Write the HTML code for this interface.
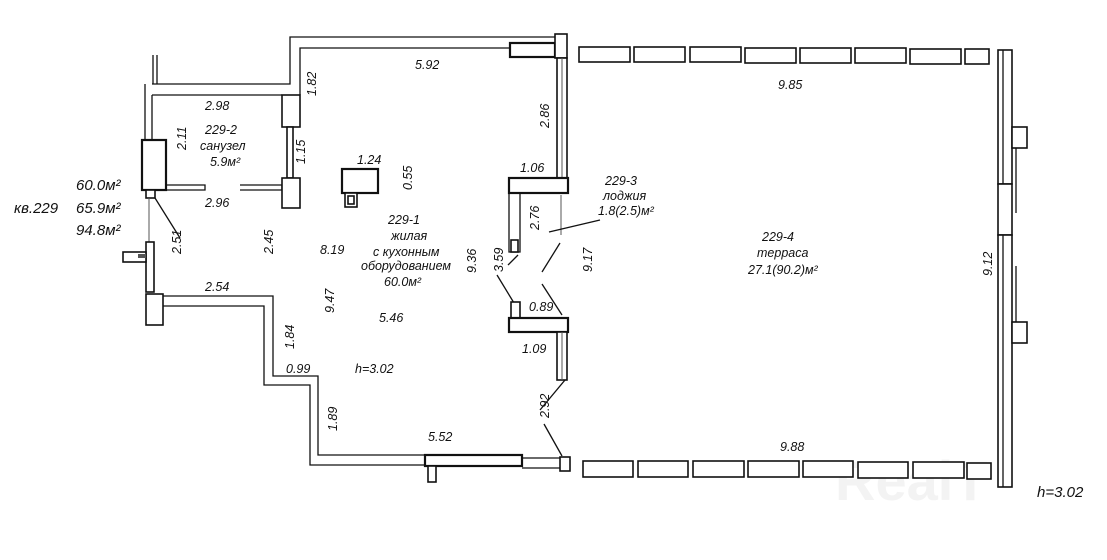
<!DOCTYPE html>
<html><head><meta charset="utf-8"><style>
html,body{margin:0;padding:0;background:#fff;}
svg{display:block}
text{font-family:"Liberation Sans",sans-serif;font-style:italic;font-size:12.5px;fill:#111;}
.big{font-size:15px}
.w{fill:#fff;stroke:#111;stroke-width:1.6}
.b{fill:#fff;stroke:#111;stroke-width:2.2}
.l{fill:none;stroke:#111;stroke-width:1.3}
.t{fill:none;stroke:#555;stroke-width:1}
</style></head><body>
<svg width="1107" height="560" viewBox="0 0 1107 560" xmlns="http://www.w3.org/2000/svg">
<text x="835" y="500" style="font-size:56px;font-style:normal;fill:#f3f3f3;font-weight:bold">RealT</text>
<polyline class="l" points="152,84 290,84 290,37 560,37"/>
<polyline class="l" points="152,95 282,95"/>
<polyline class="l" points="300,95 300,48 510,48"/>
<rect class="b" x="510" y="43" width="45" height="14"/>
<rect class="w" x="555" y="34" width="12" height="24"/>
<line class="l" x1="145" y1="84" x2="145" y2="140"/>
<line class="l" x1="152" y1="95" x2="152" y2="140"/>
<line class="l" x1="153" y1="55" x2="153" y2="84"/>
<line class="l" x1="157" y1="55" x2="157" y2="84"/>
<rect class="b" x="142" y="140" width="24" height="50"/>
<rect class="w" x="146" y="190" width="9" height="8"/>
<polyline class="l" points="166,185 205,185 205,190 166,190"/>
<polyline class="l" points="240,185 282,185 282,190 240,190"/>
<rect class="w" x="282" y="95" width="18" height="32"/>
<rect class="w" x="287" y="127" width="6" height="51"/>
<rect class="w" x="282" y="178" width="18" height="30"/>
<line class="t" x1="149" y1="198" x2="149" y2="242"/>
<line class="l" x1="155" y1="198" x2="180" y2="238"/>
<rect class="b" x="342" y="169" width="36" height="24"/>
<rect class="w" x="345" y="193" width="12" height="14"/>
<rect class="w" x="348" y="196" width="6" height="8"/>
<rect class="w" x="146" y="242" width="8" height="50"/>
<rect class="w" x="123" y="252" width="23" height="10"/>
<rect fill="#555" x="138" y="254" width="8" height="4"/>
<rect class="w" x="146" y="294" width="17" height="31"/>
<polyline class="l" points="163,296 273,296 273,376 318,376 318,455 425,455"/>
<polyline class="l" points="163,306 264,306 264,385 310,385 310,465 425,465"/>
<rect class="b" x="425" y="455" width="97" height="11"/>
<rect class="w" x="428" y="466" width="8" height="16"/>
<polyline class="l" points="522,458 562,458 562,468 522,468"/>
<rect class="w" x="560" y="457" width="10" height="14"/>
<rect class="w" x="557" y="58" width="10" height="120"/>
<line class="t" x1="562" y1="58" x2="562" y2="178"/>
<rect class="b" x="509" y="178" width="59" height="15"/>
<polyline class="l" points="509,193 509,252 520,252 520,193"/>
<rect class="w" x="511" y="240" width="7" height="12"/>
<line class="t" x1="561" y1="195" x2="561" y2="235"/>
<line class="l" x1="549" y1="232" x2="600" y2="220"/>
<line class="l" x1="560" y1="243" x2="542" y2="272"/>
<line class="l" x1="518" y1="255" x2="508" y2="265"/>
<line class="l" x1="497" y1="275" x2="514" y2="303"/>
<line class="l" x1="542" y1="284" x2="562" y2="315"/>
<rect class="w" x="511" y="302" width="9" height="16"/>
<rect class="b" x="509" y="318" width="59" height="14"/>
<rect class="w" x="557" y="332" width="10" height="48"/>
<line class="t" x1="562" y1="332" x2="562" y2="380"/>
<line class="l" x1="565" y1="380" x2="540" y2="410"/>
<line class="l" x1="544" y1="424" x2="562" y2="456"/>
<g class="w">
<rect x="579" y="47" width="51" height="15"/><rect x="634" y="47" width="51" height="15"/>
<rect x="690" y="47" width="51" height="15"/><rect x="745" y="48" width="51" height="15"/>
<rect x="800" y="48" width="51" height="15"/><rect x="855" y="48" width="51" height="15"/>
<rect x="910" y="49" width="51" height="15"/><rect x="965" y="49" width="24" height="15"/>
</g>
<g class="w">
<rect x="583" y="461" width="50" height="16"/><rect x="638" y="461" width="50" height="16"/>
<rect x="693" y="461" width="51" height="16"/><rect x="748" y="461" width="51" height="16"/>
<rect x="803" y="461" width="50" height="16"/><rect x="858" y="462" width="50" height="16"/>
<rect x="913" y="462" width="51" height="16"/><rect x="967" y="463" width="24" height="16"/>
</g>
<rect class="w" x="998" y="50" width="14" height="134"/>
<line class="l" x1="1003" y1="50" x2="1003" y2="184"/>
<rect class="w" x="998" y="184" width="14" height="51"/>
<rect class="w" x="998" y="235" width="14" height="252"/>
<line class="l" x1="1003" y1="235" x2="1003" y2="487"/>
<rect class="w" x="1012" y="127" width="15" height="21"/>
<rect class="w" x="1012" y="322" width="15" height="21"/>
<line class="l" x1="1016" y1="148" x2="1016" y2="213"/>
<line class="l" x1="1016" y1="266" x2="1016" y2="322"/>
<text class="big" x="14" y="213">кв.229</text>
<text class="big" x="76" y="190">60.0м²</text>
<text class="big" x="76" y="213">65.9м²</text>
<text class="big" x="76" y="235">94.8м²</text>
<text x="415" y="69">5.92</text>
<text x="205" y="110">2.98</text>
<text x="205" y="207">2.96</text>
<text x="205" y="134">229-2</text>
<text x="200" y="150">санузел</text>
<text x="210" y="166">5.9м²</text>
<text x="357" y="164">1.24</text>
<text x="520" y="172">1.06</text>
<text x="529" y="311">0.89</text>
<text x="522" y="353">1.09</text>
<text x="388" y="224">229-1</text>
<text x="391" y="240">жилая</text>
<text x="373" y="256">с кухонным</text>
<text x="361" y="270">оборудованием</text>
<text x="384" y="286">60.0м²</text>
<text x="320" y="254">8.19</text>
<text x="379" y="322">5.46</text>
<text x="205" y="291">2.54</text>
<text x="286" y="373">0.99</text>
<text x="355" y="373">h=3.02</text>
<text x="428" y="441">5.52</text>
<text x="605" y="185">229-3</text>
<text x="603" y="200">лоджия</text>
<text x="598" y="215">1.8(2.5)м²</text>
<text x="778" y="89">9.85</text>
<text x="762" y="241">229-4</text>
<text x="757" y="257">терраса</text>
<text x="748" y="274">27.1(90.2)м²</text>
<text x="780" y="451">9.88</text>
<text class="big" x="1037" y="497">h=3.02</text>
<g>
<text transform="translate(316,96) rotate(-90)">1.82</text>
<text transform="translate(186,150) rotate(-90)">2.11</text>
<text transform="translate(305,164) rotate(-90)">1.15</text>
<text transform="translate(412,190) rotate(-90)">0.55</text>
<text transform="translate(181,254) rotate(-90)">2.51</text>
<text transform="translate(273,254) rotate(-90)">2.45</text>
<text transform="translate(476,273) rotate(-90)">9.36</text>
<text transform="translate(503,272) rotate(-90)">3.59</text>
<text transform="translate(549,128) rotate(-90)">2.86</text>
<text transform="translate(539,230) rotate(-90)">2.76</text>
<text transform="translate(334,313) rotate(-90)">9.47</text>
<text transform="translate(294,349) rotate(-90)">1.84</text>
<text transform="translate(337,431) rotate(-90)">1.89</text>
<text transform="translate(549,418) rotate(-90)">2.92</text>
<text transform="translate(592,272) rotate(-90)">9.17</text>
<text transform="translate(992,276) rotate(-90)">9.12</text>
</g>
</svg>
</body></html>
